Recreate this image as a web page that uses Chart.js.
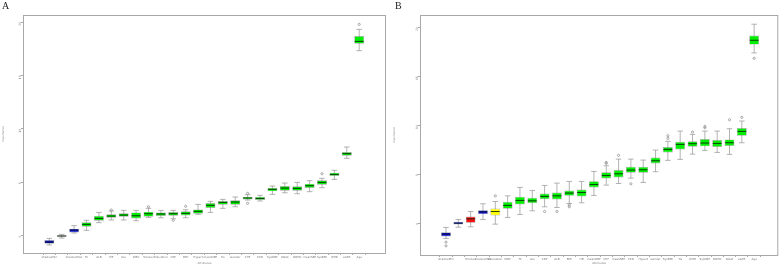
<!DOCTYPE html>
<html>
<head>
<meta charset="utf-8">
<script src="https://cdn.jsdelivr.net/npm/chart.js@4"></script>
<style>
  body { margin: 0; background: #fff; width: 783px; height: 265px; position: relative; overflow: hidden; }
  .panel { position: absolute; top: 0; }
  .tag { position: absolute; top: 0; font-family: "Liberation Serif", serif; font-size: 10px; color: #222; }
</style>
</head>
<body>
<div class="panel" style="left:0"><canvas id="chartA" width="391" height="265"></canvas></div>
<div class="panel" style="left:391px"><canvas id="chartB" width="392" height="265"></canvas></div>
<div class="tag" style="left:2px">A</div>
<div class="tag" style="left:395px">B</div>
<script>
// ---- data: panel A ----
const labelsA = ["shadowMin", "shadowMean", "shadowMax", "TC", "ALB", "HB", "Glu", "WBC", "Smoker", "Education",
  "CRP", "BMI", "Hypert", "meanDBP", "TG", "Gender", "CHF", "CKD", "SysDBP", "Waist", "DOHD", "meanSBP",
  "SysBMI", "WHR", "eGFR", "Age"];
const statusA = ["s", "s", "s", "c", "c", "c", "c", "c", "c", "c", "c", "c", "c", "c", "c", "c", "c", "c", "c",
  "c", "c", "c", "c", "c", "c", "c"];
const q1A = [-0.75, -0.09, 0.31, 0.84, 1.40, 1.68, 1.78, 1.62, 1.78, 1.84, 1.87, 1.90, 2.06, 2.59, 2.90, 2.90,
  3.40, 3.34, 4.15, 4.21, 4.21, 4.46, 4.77, 5.59, 7.49, 17.97];
const medA = [-0.59, -0.03, 0.53, 1.06, 1.62, 1.84, 1.93, 1.87, 2.06, 2.03, 2.06, 2.09, 2.28, 2.84, 3.12, 3.15,
  3.53, 3.49, 4.34, 4.46, 4.43, 4.68, 4.99, 5.74, 7.68, 18.19];
const q3A = [-0.41, 0.03, 0.66, 1.25, 1.87, 2.00, 2.09, 2.18, 2.25, 2.18, 2.22, 2.28, 2.46, 3.06, 3.24, 3.31,
  3.65, 3.65, 4.49, 4.65, 4.62, 4.87, 5.18, 5.90, 7.83, 18.69];
const loA = [-0.87, -0.22, 0.25, 0.50, 1.22, 1.47, 1.47, 1.40, 1.70, 1.68, 1.59, 1.68, 2.00, 2.18, 2.56, 2.71,
  3.34, 3.25, 3.87, 4.02, 3.93, 4.12, 4.49, 5.27, 7.24, 17.32];
const hiA = [-0.25, 0.12, 0.94, 1.44, 2.18, 2.31, 2.37, 2.37, 2.56, 2.37, 2.37, 2.43, 2.93, 3.21, 3.40, 3.62,
  3.84, 3.78, 4.65, 4.93, 4.99, 5.15, 5.37, 6.12, 8.30, 19.31];
const outPosA = [6, 9, 11, 12, 17, 17, 23, 26];
const outValA = [2.40, 2.71, 1.44, 2.75, 3.96, 3.03, 5.80, 19.78];

// ---- data: panel B ----
const labelsB = ["shadowMin", "shadowMean", "Smoker", "shadowMax", "Education", "WBC", "TC", "Glu", "CRP", "ALB",
  "BMI", "HB", "meanDBP", "CHF", "meanSBP", "CKD", "Hypert", "Gender", "SysBMI", "TG", "WHR", "SysDBP",
  "DOHD", "Waist", "eGFR", "Age"];
const statusB = ["s", "s", "r", "s", "t", "c", "c", "c", "c", "c", "c", "c", "c", "c", "c", "c", "c", "c", "c",
  "c", "c", "c", "c", "c", "c", "c"];
const q1B = [-1.36, -0.14, 0.03, 0.92, 0.78, 1.47, 1.91, 2.04, 2.45, 2.42, 2.79, 2.73, 3.65, 4.57, 4.67, 5.14,
  5.14, 6.10, 7.22, 7.53, 7.80, 7.84, 7.77, 7.87, 8.93, 18.23];
const medB = [-1.12, 0.00, 0.44, 1.16, 1.19, 1.81, 2.32, 2.28, 2.73, 2.79, 3.07, 3.13, 3.95, 4.87, 5.04, 5.42,
  5.45, 6.37, 7.53, 8.04, 8.11, 8.18, 8.14, 8.21, 9.37, 18.67];
const q3B = [-0.92, 0.14, 0.68, 1.33, 1.50, 2.18, 2.69, 2.59, 3.03, 3.13, 3.34, 3.44, 4.29, 5.20, 5.42, 5.76,
  5.76, 6.71, 7.77, 8.31, 8.35, 8.59, 8.48, 8.55, 9.71, 19.15];
const loB = [-1.57, -0.41, -0.37, 0.37, -0.10, 0.58, 0.89, 1.26, 1.67, 1.60, 2.01, 2.08, 2.83, 3.88, 4.05, 4.60,
  4.16, 5.25, 6.41, 6.51, 7.05, 7.43, 7.22, 7.02, 8.21, 17.38];
const hiB = [-0.44, 0.37, 1.19, 1.98, 2.21, 2.79, 3.65, 3.34, 3.85, 4.09, 4.26, 4.26, 5.28, 5.86, 6.54, 6.54,
  6.44, 7.46, 8.35, 9.40, 9.06, 9.40, 9.40, 9.64, 10.43, 20.31];
const outPosB = [1, 1, 5, 9, 10, 11, 11, 14, 14, 15, 16, 19, 19, 21, 22, 22, 24, 25, 26];
const outValB = [-1.94, -2.32, 2.79, 1.19, 1.19, 1.87, 1.67, 6.20, 6.10, 6.92, 4.02, 8.65, 8.93, 9.30, 9.88,
  9.74, 10.56, 10.80, 16.83];

const yTicks = [0, 5, 10, 15, 20];

const statusColors = { s: "#0a0ad8", r: "#f41010", t: "#ffff00", c: "#00ee00" };
const lineGray = "#a0a0a0";

// whiskers under the boxes, medians on top
const boxExtras = {
  id: "boxExtras",
  beforeDatasetsDraw(chart) {
    const { ctx, scales: { x, y } } = chart;
    const st = chart.options.plugins.boxExtras;
    const bars = chart.getDatasetMeta(0).data;
    ctx.save();
    ctx.strokeStyle = lineGray;
    ctx.lineWidth = 0.8;
    st.lo.forEach((lo, i) => {
      const cx = x.getPixelForValue(i + 1);
      const half = bars[i].width * 0.28;
      const pLo = y.getPixelForValue(lo), pHi = y.getPixelForValue(st.hi[i]);
      ctx.beginPath();
      ctx.moveTo(cx, pLo); ctx.lineTo(cx, pHi);
      ctx.moveTo(cx - half, pLo); ctx.lineTo(cx + half, pLo);
      ctx.moveTo(cx - half, pHi); ctx.lineTo(cx + half, pHi);
      ctx.stroke();
    });
    ctx.restore();
  },
  afterDatasetsDraw(chart) {
    const { ctx, scales: { x, y } } = chart;
    const st = chart.options.plugins.boxExtras;
    const bars = chart.getDatasetMeta(0).data;
    ctx.save();
    ctx.strokeStyle = "rgba(10,30,10,0.85)";
    ctx.lineWidth = 1;
    st.med.forEach((m, i) => {
      const cx = x.getPixelForValue(i + 1);
      const half = bars[i].width / 2 - 0.5;
      const py = y.getPixelForValue(m);
      ctx.beginPath();
      ctx.moveTo(cx - half, py); ctx.lineTo(cx + half, py);
      ctx.stroke();
    });
    ctx.restore();
  },
  afterDraw(chart) {
    const { ctx, chartArea: a } = chart;
    ctx.save();
    ctx.strokeStyle = "#a8a8a8";
    ctx.lineWidth = 1;
    ctx.strokeRect(a.left + 0.5, a.top + 0.5, a.right - a.left - 1, a.bottom - a.top);
    ctx.restore();
  }
};

function makeBoxChart(id, p) {
  const boxData = p.labels.map((_, i) => ({ x: i + 1, y: [p.q1[i], p.q3[i]] }));
  const outData = p.outPos.map((pos, i) => ({ x: pos, y: p.outVal[i] }));
  return new Chart(document.getElementById(id), {
    type: "bar",
    data: {
      datasets: [
        {
          type: "bar",
          data: boxData,
          backgroundColor: p.status.map(s => statusColors[s]),
          borderColor: "rgba(130,130,130,0.7)",
          borderWidth: 0.7,
          borderSkipped: false,
          barPercentage: 0.8,
          categoryPercentage: 1.0
        },
        {
          type: "scatter",
          data: outData,
          pointStyle: "circle",
          pointRadius: 1.1,
          backgroundColor: "rgba(0,0,0,0)",
          borderColor: "#888",
          borderWidth: 0.7
        }
      ]
    },
    options: {
      responsive: false,
      animation: false,
      devicePixelRatio: 1,
      layout: { padding: { left: 0, right: p.padRight, top: 15, bottom: 0 } },
      plugins: {
        legend: { display: false },
        tooltip: { enabled: false },
        boxExtras: { lo: p.lo, hi: p.hi, med: p.med }
      },
      scales: {
        x: {
          type: "linear",
          min: p.xMin,
          max: p.xMax,
          afterBuildTicks: s => { s.ticks = p.labels.map((_, i) => ({ value: i + 1 })); },
          afterFit: s => { s.height = p.xHeight; },
          grid: { display: true, drawOnChartArea: false, tickLength: 2, color: "#aaa" },
          border: { display: false },
          ticks: {
            autoSkip: false,
            maxRotation: 0,
            padding: 1,
            color: "#777",
            font: { size: 2.8, family: "DejaVu Sans" },
            callback: v => (v === 2 ? "" : p.labels[v - 1])
          },
          title: { display: true, text: "Attributes", color: "#888", padding: 0, font: { size: 2.8, family: "DejaVu Sans" } }
        },
        y: {
          min: p.yMin,
          max: p.yMax,
          afterBuildTicks: s => { s.ticks = yTicks.map(v => ({ value: v })); },
          afterFit: s => { s.width = p.yWidth; },
          grid: { display: true, drawOnChartArea: false, tickLength: 2, color: "#aaa" },
          border: { display: false },
          ticks: {
            minRotation: 90,
            maxRotation: 90,
            padding: 1,
            color: "#777",
            font: { size: 3, family: "DejaVu Sans" }
          },
          title: { display: true, text: "Importance", color: "#888", padding: 2, font: { size: 2.8, family: "DejaVu Sans" } }
        }
      }
    },
    plugins: [boxExtras]
  });
}

makeBoxChart("chartA", {
  labels: labelsA, status: statusA, q1: q1A, med: medA, q3: q3A, lo: loA, hi: hiA,
  outPos: outPosA, outVal: outValA,
  xMin: -0.56, xMax: 27.6, yMin: -1.62, yMax: 20.66,
  yWidth: 23, xHeight: 12, padRight: 5
});

makeBoxChart("chartB", {
  labels: labelsB, status: statusB, q1: q1B, med: medB, q3: q3B, lo: loB, hi: hiB,
  outPos: outPosB, outVal: outValB,
  xMin: -0.55, xMax: 27.4, yMin: -3.25, yMax: 21.25,
  yWidth: 29, xHeight: 10, padRight: 4
});
</script>
</body>
</html>
